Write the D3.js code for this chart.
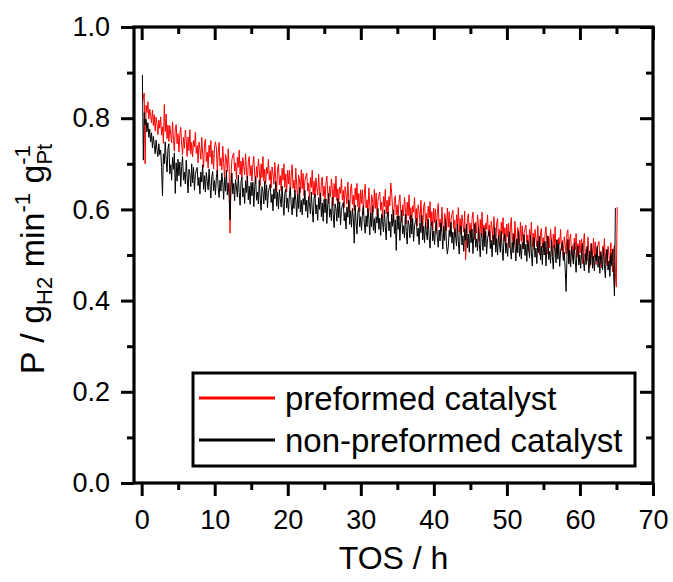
<!DOCTYPE html>
<html><head><meta charset="utf-8">
<script src="https://cdn.jsdelivr.net/npm/d3@7"></script>
<style>body{margin:0;background:#fff} svg{display:block} text{font-family:"Liberation Sans",Arial,sans-serif}</style>
</head><body><svg id="c" width="673" height="582"></svg>
<script>
// sampling of the time on stream (h): first sample and interval
const tStart = 0.1, tStep = 0.125;
// P (g_H2 min^-1 g_Pt^-1)
const preformed = [
.835,.845,.855,.700,.828,.812,.836,.798,.820,.806,.790,.818,.784,.808,.772,.802,.788,.764,.796,.778,
.803,.763,.781,.745,.830,.771,.809,.755,.785,.749,.784,.764,.746,.792,.754,.728,.776,.786,.744,.766,
.726,.764,.780,.742,.720,.758,.734,.774,.752,.716,.759,.729,.775,.721,.747,.715,.751,.737,.769,.723,
.740,.702,.748,.732,.710,.758,.720,.692,.744,.754,.705,.725,.691,.741,.715,.751,.699,.729,.689,.737,
.748,.735,.681,.725,.747,.695,.713,.687,.739,.701,.669,.721,.711,.683,.733,.691,.548,.675,.709,.719,
.724,.684,.702,.666,.714,.692,.730,.676,.706,.670,.714,.694,.676,.722,.684,.658,.706,.716,.674,.696,
.662,.700,.716,.678,.656,.694,.670,.710,.688,.652,.700,.670,.716,.662,.688,.656,.692,.678,.710,.664,
.685,.647,.693,.677,.655,.703,.665,.637,.689,.699,.654,.674,.640,.690,.664,.700,.648,.678,.638,.686,
.656,.686,.632,.676,.698,.646,.664,.638,.690,.652,.623,.675,.665,.637,.687,.645,.679,.629,.663,.673,
.680,.640,.658,.622,.670,.648,.686,.632,.662,.626,.669,.649,.631,.677,.639,.613,.661,.671,.629,.651,
.619,.657,.673,.635,.613,.651,.627,.667,.645,.609,.657,.627,.673,.619,.645,.613,.649,.635,.667,.621,
.642,.604,.650,.634,.612,.660,.622,.594,.646,.656,.611,.631,.597,.647,.621,.657,.605,.635,.595,.643,
.613,.643,.589,.633,.655,.603,.621,.595,.647,.609,.580,.632,.622,.594,.644,.602,.636,.586,.620,.630,
.638,.598,.616,.580,.628,.606,.644,.590,.620,.584,.628,.608,.658,.636,.598,.572,.620,.630,.588,.610,
.578,.616,.632,.594,.572,.610,.586,.626,.604,.568,.616,.586,.632,.578,.604,.572,.608,.594,.626,.580,
.602,.564,.610,.594,.572,.620,.582,.554,.606,.616,.571,.591,.557,.607,.581,.617,.565,.595,.555,.603,
.571,.601,.547,.591,.613,.561,.579,.553,.605,.567,.539,.591,.581,.553,.603,.561,.595,.545,.579,.589,
.598,.558,.576,.540,.588,.566,.604,.550,.580,.544,.588,.568,.550,.596,.490,.532,.580,.590,.548,.570,
.540,.578,.594,.556,.534,.572,.548,.588,.566,.530,.578,.548,.594,.540,.566,.534,.570,.556,.588,.542,
.566,.528,.574,.558,.536,.584,.546,.518,.570,.580,.536,.556,.522,.572,.546,.582,.530,.560,.520,.568,
.540,.570,.516,.560,.582,.530,.548,.522,.574,.536,.508,.560,.550,.522,.572,.530,.564,.514,.548,.558,
.566,.526,.544,.508,.556,.534,.572,.518,.548,.512,.556,.536,.518,.564,.526,.500,.548,.558,.516,.538,
.508,.546,.562,.524,.502,.540,.516,.556,.534,.498,.546,.516,.562,.508,.534,.502,.538,.524,.556,.510,
.532,.494,.540,.524,.502,.550,.555,.484,.536,.546,.501,.521,.487,.537,.511,.547,.495,.525,.485,.533,
.505,.535,.481,.525,.547,.495,.513,.487,.539,.501,.473,.525,.515,.487,.537,.495,.529,.479,.513,.523,
.530,.490,.508,.472,.520,.498,.536,.482,.512,.476,.519,.499,.481,.527,.489,.463,.511,.521,.460,.430,
.605
];
const nonPreformed = [
.895,.708,.812,.786,.798,.770,.790,.758,.776,.748,.768,.735,.760,.742,.722,.752,.730,.716,.744,.720,
.730,.692,.630,.722,.700,.748,.710,.682,.734,.744,.678,.698,.664,.714,.688,.724,.635,.702,.662,.710,
.674,.704,.650,.694,.716,.664,.682,.656,.708,.670,.636,.688,.678,.650,.700,.658,.692,.642,.676,.686,
.692,.652,.670,.634,.682,.660,.698,.644,.674,.638,.681,.661,.643,.689,.651,.625,.673,.683,.641,.663,
.632,.670,.686,.648,.626,.664,.640,.680,.658,.622,.670,.640,.686,.632,.658,.626,.577,.648,.680,.634,
.657,.619,.665,.649,.627,.675,.637,.609,.661,.671,.627,.647,.613,.663,.637,.673,.621,.651,.611,.659,
.630,.660,.606,.650,.672,.620,.638,.612,.664,.626,.598,.650,.640,.612,.662,.620,.654,.604,.638,.648,
.655,.615,.633,.597,.645,.623,.661,.607,.637,.601,.643,.623,.605,.651,.613,.587,.635,.645,.603,.625,
.594,.632,.648,.610,.588,.626,.602,.642,.620,.584,.632,.602,.648,.594,.620,.588,.624,.610,.642,.596,
.620,.582,.628,.612,.590,.638,.600,.572,.624,.634,.590,.610,.576,.626,.600,.636,.584,.614,.574,.622,
.593,.623,.569,.613,.635,.583,.601,.575,.627,.589,.560,.612,.602,.574,.624,.582,.616,.566,.600,.610,
.615,.575,.593,.557,.605,.583,.621,.567,.597,.561,.602,.582,.526,.610,.572,.546,.594,.604,.562,.584,
.554,.592,.608,.570,.548,.586,.562,.602,.580,.544,.592,.562,.608,.554,.580,.548,.584,.570,.602,.556,
.581,.543,.589,.573,.551,.599,.561,.533,.585,.595,.553,.573,.539,.589,.563,.599,.547,.577,.510,.585,
.556,.586,.532,.576,.598,.546,.564,.538,.590,.552,.524,.576,.566,.538,.588,.546,.580,.530,.564,.574,
.581,.541,.559,.523,.571,.549,.587,.533,.563,.527,.571,.551,.533,.579,.541,.515,.563,.573,.531,.553,
.523,.561,.577,.539,.517,.555,.531,.571,.549,.513,.562,.532,.578,.524,.502,.518,.554,.540,.572,.526,
.550,.512,.558,.542,.520,.568,.530,.502,.554,.564,.522,.542,.508,.558,.532,.568,.516,.546,.506,.554,
.527,.557,.503,.547,.569,.517,.535,.509,.561,.523,.496,.548,.538,.510,.560,.518,.552,.502,.536,.546,
.554,.514,.532,.496,.544,.522,.560,.506,.536,.500,.544,.524,.506,.552,.514,.488,.536,.546,.504,.526,
.497,.535,.551,.513,.491,.529,.505,.545,.523,.487,.535,.505,.551,.497,.523,.491,.527,.513,.545,.499,
.524,.486,.532,.516,.494,.542,.504,.476,.528,.538,.495,.515,.481,.531,.505,.541,.489,.519,.479,.527,
.500,.530,.476,.520,.542,.490,.508,.482,.534,.496,.469,.521,.511,.483,.533,.491,.525,.475,.509,.519,
.528,.488,.506,.470,.420,.496,.534,.480,.510,.474,.518,.498,.480,.526,.488,.462,.510,.520,.478,.500,
.471,.509,.525,.487,.465,.503,.479,.519,.497,.461,.509,.479,.525,.471,.497,.465,.501,.487,.519,.473,
.498,.460,.506,.490,.468,.516,.478,.450,.502,.512,.467,.487,.453,.503,.477,.513,.461,.410,.603
];
const xMajor = [0,10,20,30,40,50,60,70];
const xMinor = [5,15,25,35,45,55,65];
const yMajor = [0,0.2,0.4,0.6,0.8,1.0];
const yMinor = [0.1,0.3,0.5,0.7,0.9];
const seriesNames = ["preformed catalyst","non-preformed catalyst"];
const seriesColors = ["#ff0000","#000000"];

const L=134, R=653, T=27, B=483;
const svg = d3.select("#c");
const x = d3.scaleLinear().domain([-1.05,70]).range([L,R]);
const y = d3.scaleLinear().domain([0,1]).range([B,T]);

const toPts = arr => arr.map((v,i)=>[tStart+i*tStep, v]);
const line = d3.line().x(d=>x(d[0])).y(d=>y(d[1]));
[preformed, nonPreformed].forEach((s,k)=>{
  svg.append("path").attr("d", line(toPts(s))).attr("fill","none")
    .attr("stroke", seriesColors[k]).attr("stroke-width",1).attr("stroke-linejoin","round");
});

function styleAxis(g){
  g.select(".domain").remove();
  g.selectAll("line").attr("stroke","#000").attr("stroke-width",3);
  g.selectAll("text").attr("font-size",27).attr("fill","#000")
   .attr("font-family",'"Liberation Sans",Arial,sans-serif');
}
// bottom
svg.append("g").attr("transform",`translate(0,${B})`)
  .call(d3.axisBottom(x).tickValues(xMajor).tickSize(13).tickPadding(14).tickFormat(d3.format("d"))).call(styleAxis);
svg.append("g").attr("transform",`translate(0,${B})`)
  .call(d3.axisBottom(x).tickValues(xMinor).tickSize(7).tickFormat("")).call(styleAxis);
// top
svg.append("g").attr("transform",`translate(0,${T})`)
  .call(d3.axisTop(x).tickValues(xMajor).tickSize(-13).tickFormat("")).call(styleAxis);
svg.append("g").attr("transform",`translate(0,${T})`)
  .call(d3.axisTop(x).tickValues(xMinor).tickSize(-7).tickFormat("")).call(styleAxis);
// left
svg.append("g").attr("transform",`translate(${L},0)`)
  .call(d3.axisLeft(y).tickValues(yMajor).tickSize(13).tickPadding(11).tickFormat(d3.format(".1f"))).call(styleAxis);
svg.append("g").attr("transform",`translate(${L},0)`)
  .call(d3.axisLeft(y).tickValues(yMinor).tickSize(7).tickFormat("")).call(styleAxis);
// right
svg.append("g").attr("transform",`translate(${R},0)`)
  .call(d3.axisRight(y).tickValues(yMajor).tickSize(-13).tickFormat("")).call(styleAxis);
svg.append("g").attr("transform",`translate(${R},0)`)
  .call(d3.axisRight(y).tickValues(yMinor).tickSize(-7).tickFormat("")).call(styleAxis);

svg.append("rect").attr("x",L).attr("y",T).attr("width",R-L).attr("height",B-T)
  .attr("fill","none").attr("stroke","#000").attr("stroke-width",3.2);

// axis titles
svg.append("text").attr("x",(L+R)/2).attr("y",569).attr("text-anchor","middle")
  .attr("font-size",32).text("TOS / h");
const yl = svg.append("text").attr("transform","translate(44,259) rotate(-90)")
  .attr("text-anchor","middle").attr("font-size",34);
yl.append("tspan").text("P / g");
yl.append("tspan").attr("font-size",22).attr("dy",8).text("H2");
yl.append("tspan").attr("dy",-8).text(" min");
yl.append("tspan").attr("font-size",22).attr("dy",-14).text("-1");
yl.append("tspan").attr("dy",14).text(" g");
yl.append("tspan").attr("font-size",22).attr("dy",8).text("Pt");
yl.append("tspan").attr("font-size",22).attr("dx",-21).attr("dy",-22).text("-1");

// legend
const lg = svg.append("g");
lg.append("rect").attr("x",193).attr("y",373).attr("width",442).attr("height",93)
  .attr("fill","#fff").attr("stroke","#000").attr("stroke-width",3);
seriesNames.forEach((n,k)=>{
  const yy = 398 + k*42;
  lg.append("line").attr("x1",199).attr("x2",275).attr("y1",yy).attr("y2",yy)
    .attr("stroke",seriesColors[k]).attr("stroke-width",3);
  lg.append("text").attr("x",285).attr("y",yy+12).attr("font-size",33).text(n);
});
</script></body></html>
